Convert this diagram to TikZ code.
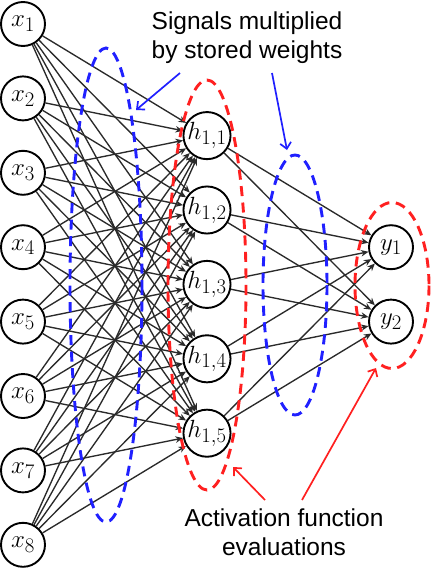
\documentclass[tikz,border=0pt]{standalone}
\usepackage{fontspec}
\setsansfont{Liberation Sans}
\usetikzlibrary{arrows.meta}
\definecolor{edgegray}{HTML}{2A2A2A}
\definecolor{dblue}{HTML}{2020FF}
\definecolor{dred}{HTML}{FF2020}
\begin{document}
\begin{tikzpicture}[x=1pt,y=-1pt,
  neuron/.style={circle,draw=black,line width=1.9pt,fill=white,minimum size=44pt,inner sep=0pt,font=\fontsize{24.88}{30}\selectfont},
  edge/.style={draw=edgegray,line width=1.35pt,-{Stealth[length=7.5pt,width=6.5pt]}},
  blueell/.style={draw=dblue,line width=2.9pt,dash pattern=on 10pt off 6.5pt},
  redell/.style={draw=dred,line width=2.9pt,dash pattern=on 10pt off 6.5pt},
  bluearrow/.style={draw=dblue,line width=1.7pt,-{Straight Barb[length=6pt,width=11pt]}},
  redarrow/.style={draw=dred,line width=1.7pt,-{Straight Barb[length=6pt,width=11pt]}},
  label/.style={font=\sffamily\fontsize{24.5}{29}\selectfont,align=center,inner sep=0pt}
]
\useasboundingbox (0,0) rectangle (432,568);
% input nodes
\foreach \i in {1,...,8}{
  \node[neuron] (x\i) at (23,{24+74.4*(\i-1)}) {$x_{\i}$};
}
% hidden nodes
\foreach \j in {1,...,5}{
  \node[neuron] (h\j) at (207,{135.6+74.4*(\j-1)}) {$h_{1,\j}$};
}
% output nodes
\node[neuron] (y1) at (391,247.2) {$y_1$};
\node[neuron] (y2) at (391,321.6) {$y_2$};
% edges
\foreach \i in {1,...,8}{
  \foreach \j in {1,...,5}{
    \draw[edge] (x\i) -- (h\j);
  }
}
\foreach \j in {1,...,5}{
  \foreach \k in {1,2}{
    \draw[edge] (h\j) -- (y\k);
  }
}
% dashed groupings
\draw[blueell] (106,285) ellipse [x radius=36, y radius=237];
\draw[redell] (207,285) ellipse [x radius=39, y radius=205];
\draw[blueell] (295,285) ellipse [x radius=32, y radius=130];
\draw[redell] (392,285.5) ellipse [x radius=37, y radius=83];
% labels
\node[label] (sig) at (247,38) {Signals multiplied\\by stored weights};
\node[label] (act) at (284,532) {Activation function\\evaluations};
% annotation arrows
\coordinate (b1s) at (180,73);
\coordinate (b1t) at (136,110);
\coordinate (b2s) at (272,73);
\coordinate (b2t) at (287,150);
\coordinate (r1s) at (265,500);
\coordinate (r1t) at (233,467);
\coordinate (r2s) at (302,500);
\coordinate (r2t) at (376,368);
\draw[bluearrow] (b1s) -- (b1t);
\draw[bluearrow] (b2s) -- (b2t);
\draw[redarrow] (r1s) -- (r1t);
\draw[redarrow] (r2s) -- (r2t);
\end{tikzpicture}
\end{document}
